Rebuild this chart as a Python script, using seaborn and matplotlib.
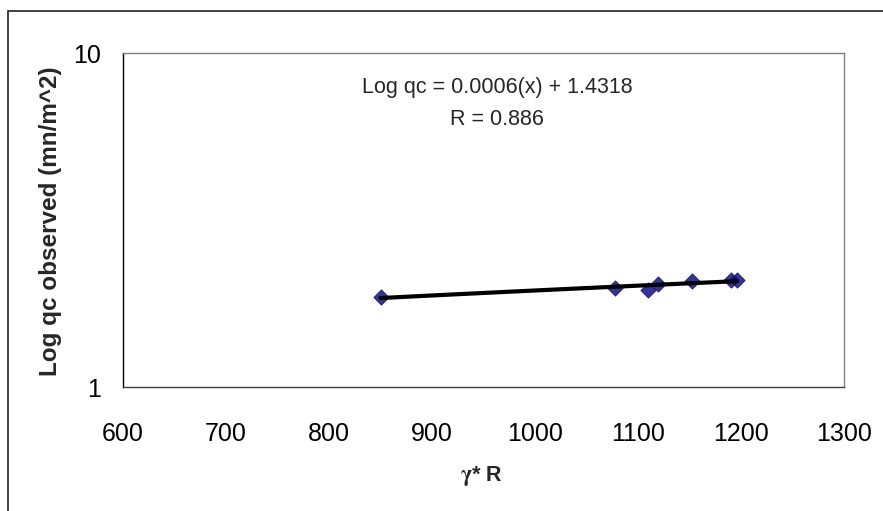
import matplotlib
matplotlib.use("Agg")
import matplotlib.pyplot as plt
import seaborn as sns
import pandas as pd
from matplotlib.patches import Rectangle

# data
gamma_r = [850, 1078, 1110, 1119, 1152, 1190, 1196]
log_qc = [1.864, 1.98, 1.95, 2.03, 2.07, 2.09, 2.09]
x_ticks = [600, 700, 800, 900, 1000, 1100, 1200, 1300]
y_ticks = [1, 10]
eq_text = "Log qc = 0.0006(x) + 1.4318"
r_text = "R = 0.886"

sns.set_theme(style="white")
plt.rcParams['font.family'] = ['Liberation Sans', 'DejaVu Sans']

df = pd.DataFrame({"gamma_r": gamma_r, "log_qc": log_qc})

fig = plt.figure(figsize=(8.83, 5.11), dpi=100)
ax = fig.add_axes([123/883, 1-387/511, (844-123)/883, (387-53)/511])

ax.set_yscale('log')
sns.regplot(data=df, x="gamma_r", y="log_qc", ax=ax, ci=None, truncate=True,
            marker='D',
            scatter_kws={'color': '#000080', 's': 62, 'edgecolor': '#000060', 'linewidths': 0.5},
            line_kws={'color': 'black', 'lw': 3.0})

ax.set_xlim(600, 1300)
ax.set_ylim(1, 10)
ax.set_xticks(x_ticks)
ax.set_xticklabels([str(v) for v in x_ticks])
ax.set_yticks(y_ticks)
ax.set_yticklabels([str(v) for v in y_ticks])
ax.yaxis.set_minor_locator(matplotlib.ticker.NullLocator())

ax.tick_params(axis='both', which='major', direction='out', length=6, width=1,
               color='black', labelsize=18, labelcolor='black')
ax.tick_params(axis='x', pad=19)
ax.tick_params(axis='y', pad=10)

for side in ['top', 'right']:
    ax.spines[side].set_color('#808080')
    ax.spines[side].set_linewidth(1)
ax.spines['left'].set_color('black')
ax.spines['bottom'].set_color('#404040')
for side in ['left', 'bottom']:
    ax.spines[side].set_linewidth(1)

ax.set_xlabel(r"$\mathbf{\gamma}$* R", fontsize=15.5, fontweight='bold', math_fontfamily='stix')
ax.set_ylabel("Log qc observed (mn/m^2)", fontsize=17.5, fontweight='bold')
ax.xaxis.set_label_coords((481-123)/721, (387-464)/334)
ax.yaxis.set_label_coords((62-123)/721, (387-221)/334)

fig.text(497/883, 1-88/511, eq_text, fontsize=15.5, ha='center', va='center')
fig.text(497/883, 1-119/511, r_text, fontsize=15.5, ha='center', va='center')

# outer chart border
fig.patches.append(Rectangle((8/883, -0.1), 1.2, (1-11/511)+0.1, transform=fig.transFigure,
                             fill=False, edgecolor='#222222', linewidth=1.2))

fig.savefig("out.png", dpi=100)
